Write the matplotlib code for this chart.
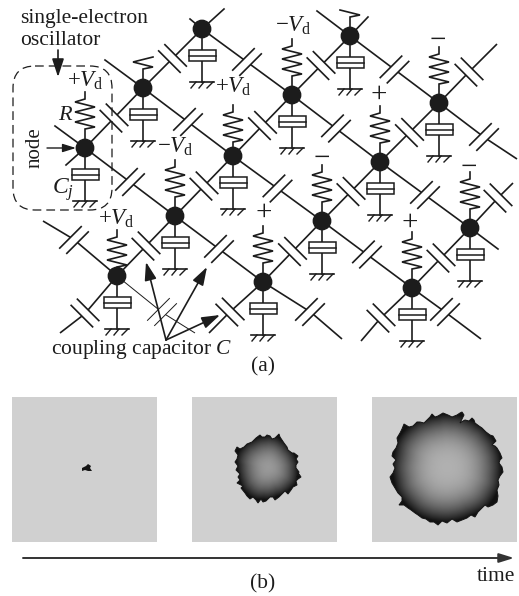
import matplotlib
matplotlib.use("Agg")
import matplotlib.pyplot as plt
import numpy as np
from matplotlib.patches import Circle, FancyBboxPatch, Polygon, Rectangle

plt.rcParams["font.family"] = ["Liberation Serif", "DejaVu Serif"]
plt.rcParams["mathtext.fontset"] = "custom"
plt.rcParams["mathtext.rm"] = "Liberation Serif"
plt.rcParams["mathtext.it"] = "Liberation Serif:italic"

INK = "#1c1c1c"
LW = 1.2

# node positions (pixels)
node_x = [202, 350, 143, 292, 439, 85, 233, 380, 175, 322, 470, 117, 263, 412]
node_y = [29, 36, 88, 95, 103, 148, 156, 162, 216, 221, 228, 276, 282, 288]

# node index pairs joined through a coupling capacitor
edges = [(5, 8), (2, 6), (0, 3), (3, 7), (1, 4), (6, 9), (8, 12), (9, 13), (7, 10),
         (5, 2), (2, 0), (11, 8), (8, 6), (6, 3), (3, 1), (12, 9), (9, 7), (7, 4), (13, 10)]

# free ends without a capacitor: node, end x, end y
bare_stubs = [(5, 55, 126), (5, 66, 165), (2, 105, 60), (0, 190, 19), (0, 224, 9),
              (1, 317, 11), (1, 368, 17), (10, 498, 249)]

# free ends with a capacitor: node, end x, end y, capacitor x, capacitor y, thin line
cap_stubs = [(4, 497, 44, 469, 72, 0), (4, 517, 159, 484, 137, 0), (11, 43, 221, 74, 240, 0),
             (11, 60, 333, 85, 313, 0), (11, 195, 333, 162, 312, 1), (12, 209, 333, 230, 312, 0),
             (12, 342, 339, 310, 312, 0), (13, 361, 341, 381, 318, 0), (13, 481, 339, 445, 312, 0),
             (10, 513, 183, 498, 198, 0)]

# where each resistor starts in the zigzag (0 = full, None = no resistor)
res_start = [None, 6, 5, 0, 0, 0, 0, 0, 0, 0, 0, 0, 0, 0]
# a few resistors sit lower on their stem
res_shift = [0, 0, 0, 0, 0, 0, 5, 0, 0, 0, 0, 10, 0, 0]

res_dx = [0, 0, -10, 10, -10, 10, -10, 10, 0, 0]
res_dy = [-56, -49, -46, -41, -36, -31, -26, -21, -19, 0]

# voltage labels: x, y baseline, text
volt_x = [67, 215, 157, 275, 98]
volt_y = [87, 93, 153, 32, 225]
volt_txt = ["+", "+", "\u2212", "\u2212", "+"]
sign_x = [379, 438, 322, 469, 264, 410]
sign_y = [92, 38, 156, 165, 210, 220]
sign_txt = ["+", "\u2212", "\u2212", "\u2212", "+", "+"]

# panels in (b)
panel_left = [12, 192, 372]
panel_top = 397
panel_size = 145

# blob outlines
blob1_x = [82, 86, 88, 91, 90, 92, 88, 85, 82]
blob1_y = [468, 466, 464, 466, 468, 471, 471, 470, 471]

blob2_x = [260, 262, 265, 267, 270, 272, 275, 277, 279, 280,
           282, 284, 287, 288, 292, 294, 298, 296, 298, 296,
           296, 299, 297, 299, 301, 298, 296, 297, 293, 291,
           288, 285, 282, 279, 275, 273, 270, 266, 263, 261,
           258, 256, 253, 250, 247, 245, 241, 243, 237, 240,
           238, 240, 236, 238, 235, 237, 238, 235, 237, 240,
           244, 247, 252, 256]
blob2_y = [435, 437, 437, 435, 436, 439, 438, 436, 434, 437,
           440, 443, 447, 450, 453, 453, 456, 459, 462, 465,
           468, 472, 477, 474, 477, 479, 481, 485, 487, 490,
           494, 491, 494, 497, 500, 497, 497, 501, 502, 499,
           503, 500, 497, 499, 496, 493, 488, 486, 483, 480,
           477, 474, 470, 466, 462, 459, 455, 451, 447, 449,
           447, 444, 442, 438]

blob3_x = [432, 435, 438, 443, 448, 452, 457, 460, 462, 464,
           460, 463, 465, 469, 472, 474, 475, 479, 482, 486,
           490, 493, 496, 494, 492, 495, 497, 500, 502, 500,
           499, 502, 503, 500, 498, 499, 497, 498, 497, 493,
           488, 485, 482, 478, 475, 471, 467, 462, 457, 452,
           447, 442, 438, 434, 430, 426, 422, 418, 415, 411,
           408, 404, 399, 402, 402, 398, 395, 392, 390, 393,
           395, 393, 396, 392, 393, 396, 398, 397, 400, 402,
           404, 409, 413, 417, 420, 424, 427, 430]
blob3_y = [414, 417, 416, 413, 415, 417, 415, 413, 412, 415,
           423, 421, 420, 421, 418, 420, 423, 426, 428, 432,
           435, 436, 441, 443, 445, 446, 448, 453, 458, 460,
           463, 467, 472, 476, 480, 485, 490, 496, 502, 505,
           507, 505, 508, 512, 517, 515, 518, 520, 522, 519,
           523, 521, 525, 522, 522, 519, 518, 515, 513, 510,
           508, 505, 505, 501, 497, 493, 488, 483, 477, 473,
           468, 464, 460, 456, 452, 448, 443, 438, 433, 429,
           424, 427, 426, 422, 422, 423, 420, 417]

blob_center_x = [268, 447]
blob_center_y = [468, 468]
blob_center_gray = [0.60, 0.69]
blob_falloff = [2.0, 2.5]

coupling_tip_x = [146, 207, 220]
coupling_tip_y = [262, 267, 315]


def draw_cap_at(ax, x0, y0, x1, y1, mid, lw, gap=4.4, half=11.3):
	# plates sit at 45 degrees, not quite square to the wire
	u = np.array([x1 - x0, y1 - y0], float)
	u /= np.hypot(*u)
	plate = np.array([1, -1]) if u[1] * u[0] > 0 else np.array([1, 1])
	a = mid - u * gap
	b = mid + u * gap
	ax.plot([x0, a[0]], [y0, a[1]], color=INK, lw=lw, solid_capstyle="butt", zorder=2)
	ax.plot([b[0], x1], [b[1], y1], color=INK, lw=lw, solid_capstyle="butt", zorder=2)
	for c in (a, b):
		p0 = c - plate * half
		p1 = c + plate * half
		ax.plot([p0[0], p1[0]], [p0[1], p1[1]], color=INK, lw=lw, solid_capstyle="butt", zorder=2)


def draw_node(ax, x, y, start, shift):
	ax.add_patch(Circle((x, y), 8.7, color=INK, zorder=4))
	# grounded capacitor
	ax.plot([x, x], [y, y + 53], color=INK, lw=LW, zorder=2)
	ax.add_patch(Rectangle((x - 13.5, y + 21), 27, 11, fc="white", ec=INK, lw=1.1, zorder=3))
	ax.plot([x - 13.5, x + 13.5], [y + 26.5, y + 26.5], color=INK, lw=1.1, zorder=3)
	ax.plot([x - 12, x + 12], [y + 53, y + 53], color=INK, lw=LW, zorder=2)
	for top, bottom in zip((-6, 2, 11), (-11, -3, 5)):
		ax.plot([x + top, x + bottom], [y + 53, y + 59], color=INK, lw=1.0, zorder=2)
	# resistor
	if start is not None:
		dy = np.array(res_dy[start:], float)
		dy[:-1] += shift
		ax.plot(x + np.array(res_dx[start:]), y + dy, color=INK, lw=LW,
			solid_joinstyle="miter", zorder=2)


def draw_blob(ax, xs, ys, cx, cy, gray, falloff):
	xs = np.array(xs, float)
	ys = np.array(ys, float)
	ang = np.arctan2(ys - cy, xs - cx)
	rad = np.hypot(xs - cx, ys - cy)
	# smooth edge radius so the shading has no spokes
	grid = np.linspace(-np.pi, np.pi, 360, endpoint=False)
	r_grid = np.interp(grid, ang, rad, period=2 * np.pi)
	kernel = np.ones(41) / 41
	r_grid = np.convolve(np.r_[r_grid[-41:], r_grid, r_grid[:41]], kernel, mode="same")[41:-41]
	gx, gy = np.meshgrid(np.arange(xs.min() - 2, xs.max() + 2, 0.5), np.arange(ys.min() - 2, ys.max() + 2, 0.5))
	r_edge = np.interp(np.arctan2(gy - cy, gx - cx), grid, r_grid, period=2 * np.pi)
	frac = np.clip(np.hypot(gx - cx, gy - cy) / r_edge, 0, 1)
	shade = 0.07 + (gray - 0.07) * (1 - frac ** falloff)
	im = ax.imshow(shade, cmap="gray", vmin=0, vmax=1, aspect="auto", zorder=2,
		extent=(gx.min(), gx.max(), gy.max(), gy.min()), interpolation="bilinear")
	poly = Polygon(np.column_stack([xs, ys]), closed=True, fc="none", ec="#141414", lw=0.7, zorder=3)
	ax.add_patch(poly)
	im.set_clip_path(poly)


def main() -> None:
	fig = plt.figure(figsize=(5.19, 5.96), dpi=100)
	ax = fig.add_axes([0, 0, 1, 1])
	ax.axis("off")

	for i, j in edges:
		mid = np.array([node_x[i] + node_x[j], node_y[i] + node_y[j]], float) / 2
		draw_cap_at(ax, node_x[i], node_y[i], node_x[j], node_y[j], mid, LW)

	for n, ex, ey in bare_stubs:
		ax.plot([node_x[n], ex], [node_y[n], ey], color=INK, lw=LW, zorder=2)

	for n, ex, ey, cx, cy, thin in cap_stubs:
		draw_cap_at(ax, node_x[n], node_y[n], ex, ey, np.array([cx, cy], float), 0.7 if thin else LW)

	for x, y, start, shift in zip(node_x, node_y, res_start, res_shift):
		draw_node(ax, x, y, start, shift)

	# voltage labels
	for x, y, s in zip(volt_x, volt_y, volt_txt):
		ax.text(x, y, s + r"$\mathit{V}_{\mathrm{d}}$", fontsize=16.5, color=INK, ha="left", va="baseline")
	for x, y, s in zip(sign_x, sign_y, sign_txt):
		ax.text(x, y, s, fontsize=21, color=INK, ha="center", va="center_baseline")

	# annotations
	ax.text(20, 23, "single-electron", fontsize=15.5, color=INK, ha="left", va="baseline")
	ax.text(20, 45, "oscillator", fontsize=15.5, color=INK, ha="left", va="baseline")
	ax.text(58, 120, "R", fontsize=16, style="italic", color=INK, ha="left", va="baseline")
	ax.text(35, 148, "node", fontsize=15, rotation=90, color=INK, ha="center", va="center")
	ax.text(52, 194, r"$\mathit{C}_{\mathit{j}}$", fontsize=17, color=INK, ha="left", va="baseline")
	ax.text(142, 354, r"coupling capacitor $\mathit{C}$", fontsize=15.5, color=INK, ha="center", va="baseline")
	ax.text(263, 371, "(a)", fontsize=15.5, color=INK, ha="center", va="baseline")
	ax.text(263, 588, "(b)", fontsize=15.5, color=INK, ha="center", va="baseline")
	ax.text(515, 581, "time", fontsize=15.5, color=INK, ha="right", va="baseline")

	ax.add_patch(FancyBboxPatch((35, 88), 55, 100, boxstyle="round,pad=22,rounding_size=22",
		fc="none", ec=INK, lw=0.9, linestyle=(0, (7, 4)), zorder=1))

	arrow = dict(arrowstyle="-|>,head_width=0.36,head_length=1.1", color=INK, lw=1.2, shrinkA=0, shrinkB=0)
	ax.annotate("", xy=(58, 77), xytext=(58, 50), arrowprops=arrow, zorder=5)
	ax.annotate("", xy=(76, 148), xytext=(47, 148), arrowprops=dict(arrowstyle="-|>,head_width=0.25,head_length=0.8",
		color=INK, lw=1.0, shrinkA=0, shrinkB=0))
	for tx, ty in zip(coupling_tip_x, coupling_tip_y):
		ax.annotate("", xy=(tx, ty), xytext=(166, 340), arrowprops=arrow, zorder=5)

	# panels of (b)
	for left in panel_left:
		ax.add_patch(Rectangle((left, panel_top), panel_size, panel_size, fc="#d0d0d0", ec="none", zorder=1))
	ax.add_patch(Polygon(np.column_stack([blob1_x, blob1_y]), closed=True, fc="#141414", ec="none", zorder=3))
	for i, (bx, by) in enumerate([(blob2_x, blob2_y), (blob3_x, blob3_y)]):
		draw_blob(ax, bx, by, blob_center_x[i], blob_center_y[i], blob_center_gray[i], blob_falloff[i])

	ax.annotate("", xy=(514, 558), xytext=(23, 558),
		arrowprops=dict(arrowstyle="-|>,head_width=0.28,head_length=0.9", color="#333333", lw=1.4, shrinkA=0, shrinkB=0))

	ax.set_xlim(0, 519)
	ax.set_ylim(596, 0)
	fig.savefig("out.png", dpi=100)


if __name__ == "__main__":
	main()
